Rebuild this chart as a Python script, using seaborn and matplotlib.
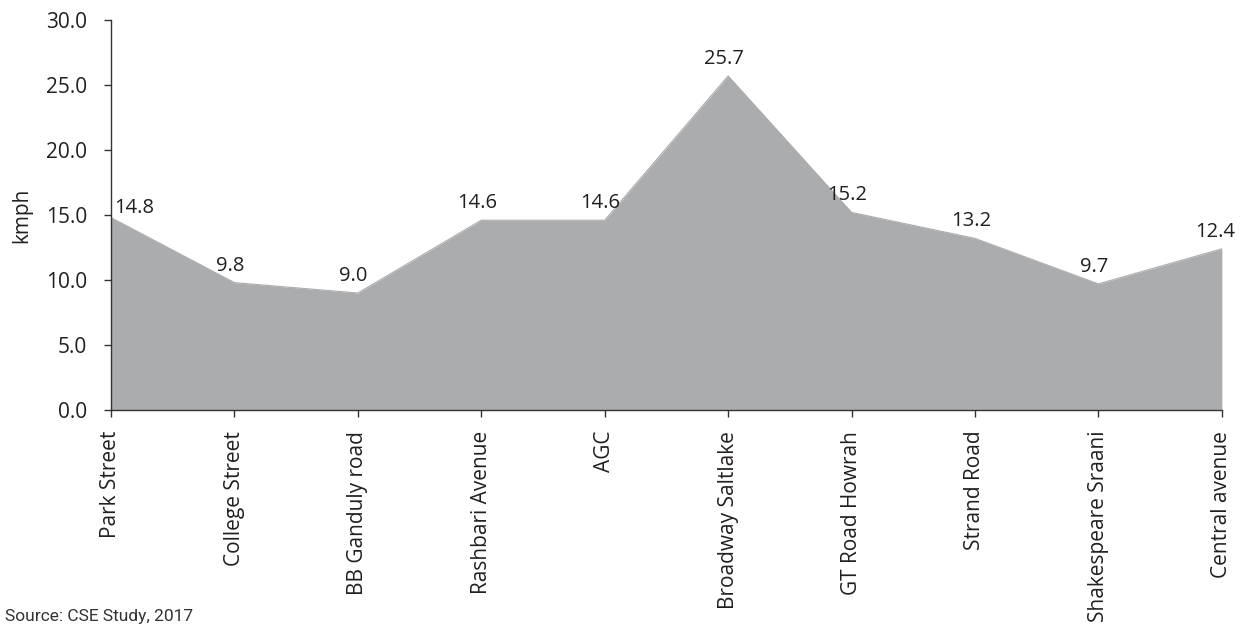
import matplotlib
matplotlib.use("Agg")
import matplotlib.pyplot as plt
import seaborn as sns
import numpy as np

# data
roads = ["Park Street", "College Street", "BB Ganduly road", "Rashbari Avenue", "AGC",
         "Broadway Saltlake", "GT Road Howrah", "Strand Road", "Shakespeare Sraani",
         "Central avenue"]
speed_kmph = [14.8, 9.8, 9.0, 14.6, 14.6, 25.7, 15.2, 13.2, 9.7, 12.4]
y_ticks = [0, 5, 10, 15, 20, 25, 30]

sns.set_style("white")
plt.rcParams['font.family'] = ['Open Sans', 'DejaVu Sans']
text_color = '#231f20'

fig = plt.figure(figsize=(12.44, 6.25), dpi=100)
ax = fig.add_axes([0.0892, 0.344, 0.893, 0.624])

x = np.arange(len(roads))
fill_color = '#abacae'
sns.lineplot(x=x, y=speed_kmph, color=fill_color, linewidth=0.8, ax=ax)
ax.fill_between(x, speed_kmph, 0, color=fill_color, linewidth=0)

# data labels
for i, v in enumerate(speed_kmph):
    if i == 0:
        ax.annotate(f"{v:.1f}", (i, v), xytext=(2, 0), textcoords='offset points',
                    ha='left', va='bottom', fontsize=14.5, color=text_color)
    elif i == len(roads) - 1:
        ax.annotate(f"{v:.1f}", (i, v), xytext=(-5, 5), textcoords='offset points',
                    ha='center', va='bottom', fontsize=14.5, color=text_color)
    else:
        ax.annotate(f"{v:.1f}", (i, v), xytext=(-3, 5), textcoords='offset points',
                    ha='center', va='bottom', fontsize=14.5, color=text_color)

ax.set_xlim(0, len(roads) - 1)
ax.set_ylim(0, 30)
ax.set_yticks(y_ticks)
ax.set_yticklabels([f"{t:.1f}" for t in y_ticks], fontsize=15, color=text_color)
ax.set_xticks(x)
ax.set_xticklabels(roads, rotation=90, fontsize=15, color=text_color)
ax.set_ylabel("kmph", fontsize=15, color=text_color, labelpad=10)

for side in ['top', 'right']:
    ax.spines[side].set_visible(False)
for side in ['left', 'bottom']:
    ax.spines[side].set_color('#333333')
    ax.spines[side].set_linewidth(1)
ax.tick_params(axis='both', direction='out', length=5, width=1, color='#333333',
               left=True, bottom=True)
ax.tick_params(axis='y', pad=12)
ax.tick_params(axis='x', pad=10)

fig.text(0.004, 0.002, "Source: CSE Study, 2017", fontsize=12.5, color='#333333',
         family=['Roboto', 'DejaVu Sans'], ha='left', va='bottom')

plt.savefig("out.png", dpi=100)
